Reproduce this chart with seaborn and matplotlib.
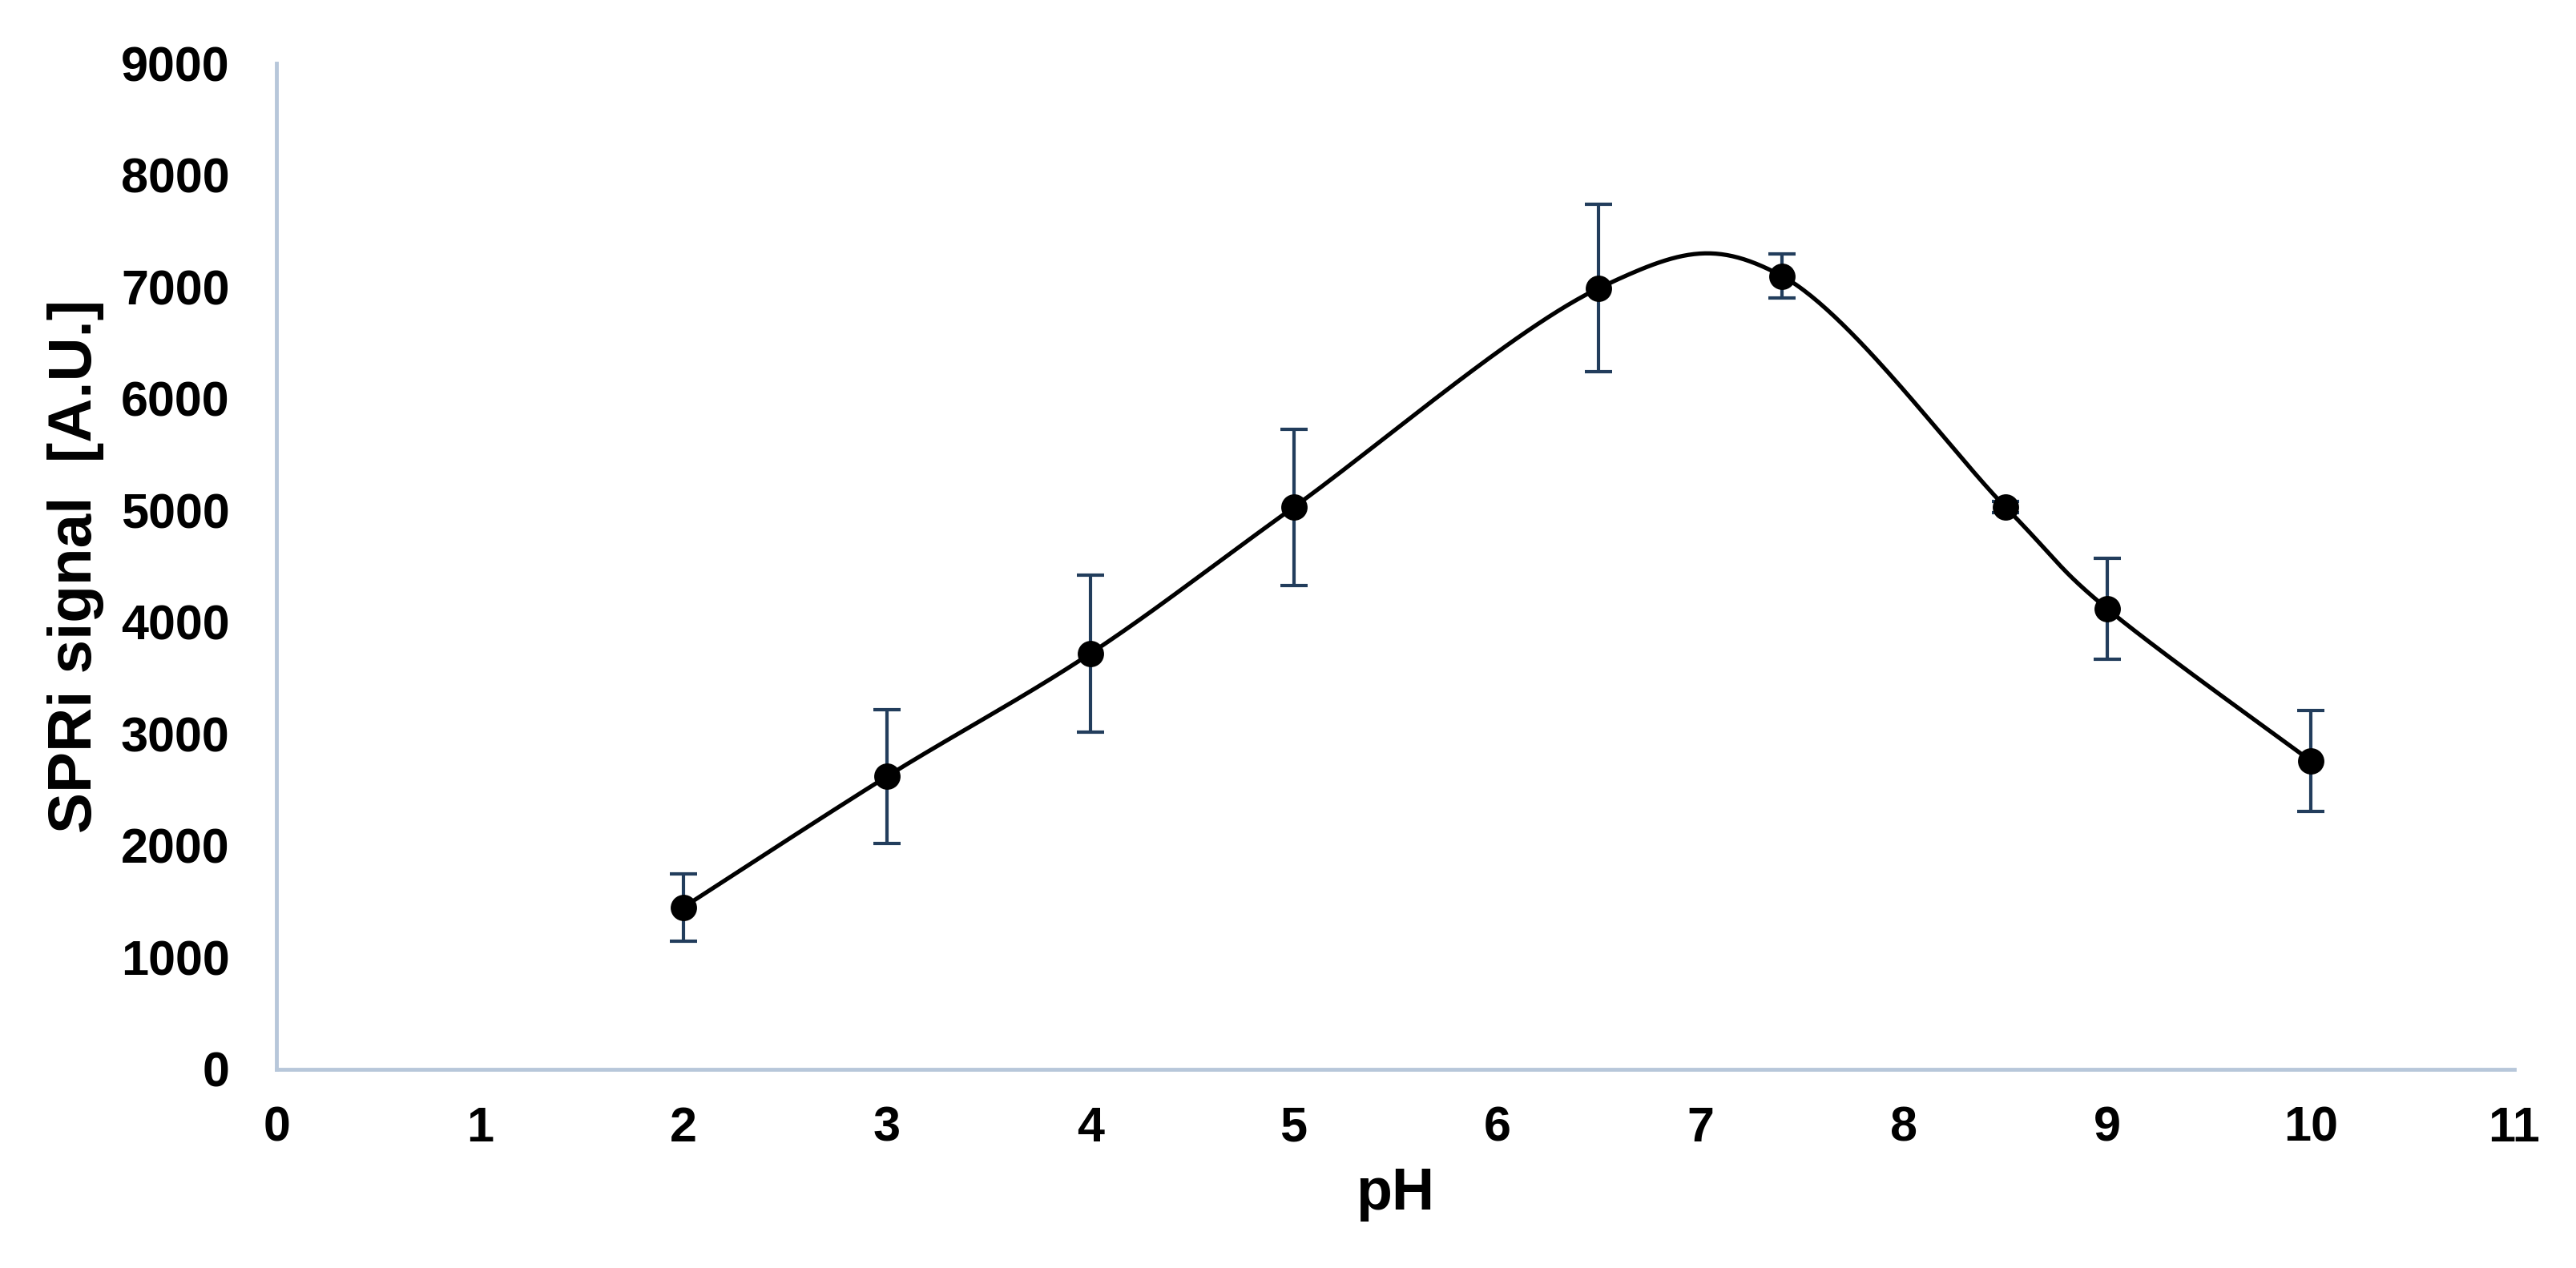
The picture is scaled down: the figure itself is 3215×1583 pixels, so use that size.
import numpy as np
import pandas as pd
import matplotlib
matplotlib.use("Agg")
import matplotlib.pyplot as plt
import seaborn as sns

# values
ph = [2, 3, 4, 5, 6.5, 7.4, 8.5, 9, 10]
signal = [1450, 2620, 3720, 5030, 6990, 7100, 5030, 4120, 2760]
error = [300, 600, 700, 700, 750, 200, 50, 450, 450]

x_ticks = list(range(0, 12))
y_ticks = list(range(0, 10000, 1000))

sns.set_style("white")
plt.rcParams["font.family"] = ["Liberation Sans", "DejaVu Sans"]
plt.rcParams["font.weight"] = "bold"

fig = plt.figure(figsize=(32.16, 15.83), dpi=100)
ax = fig.add_axes([0.1073, 0.1567, 0.8684, 0.7931])
ax.set_xlim(0, 11)
ax.set_ylim(0, 9000)


# Excel-style smoothed line: cubic Bezier through the points,
# control points from neighbours (tension 1/6), worked out in pixel space
def excel_smooth(xs, ys, ax, n=60):
    w = ax.get_position().width * fig.get_figwidth()
    h = ax.get_position().height * fig.get_figheight()
    sx = w / (ax.get_xlim()[1] - ax.get_xlim()[0])
    sy = h / (ax.get_ylim()[1] - ax.get_ylim()[0])
    P = np.column_stack([np.asarray(xs, float) * sx, np.asarray(ys, float) * sy])
    Pp = np.vstack([P[0], P, P[-1]])
    out = []
    t = np.linspace(0, 1, n)[:, None]
    for i in range(len(P) - 1):
        p0, p1, p2, p3 = Pp[i], Pp[i + 1], Pp[i + 2], Pp[i + 3]
        c1 = p1 + (p2 - p0) / 6
        c2 = p2 - (p3 - p1) / 6
        seg = ((1 - t) ** 3) * p1 + 3 * ((1 - t) ** 2) * t * c1 + 3 * (1 - t) * t ** 2 * c2 + t ** 3 * p2
        out.append(seg if i == 0 else seg[1:])
    out = np.vstack(out)
    return out[:, 0] / sx, out[:, 1] / sy


cx, cy = excel_smooth(ph, signal, ax)
curve = pd.DataFrame({"pH": cx, "signal": cy})
points = pd.DataFrame({"pH": ph, "signal": signal})

ax.errorbar(ph, signal, yerr=error, fmt="none", ecolor="#223d5c",
            elinewidth=3, capsize=12, capthick=3, zorder=2)
sns.lineplot(data=curve, x="pH", y="signal", sort=False, color="black",
             linewidth=3.8, ax=ax, zorder=3)
sns.scatterplot(data=points, x="pH", y="signal", color="black", s=560,
                edgecolor="black", linewidth=0, ax=ax, zorder=4)

ax.set_xticks(x_ticks)
ax.set_yticks(y_ticks)
ax.tick_params(axis="both", length=0, labelsize=44, colors="black")
ax.tick_params(axis="x", pad=33)
ax.tick_params(axis="y", pad=42)
for lab in ax.get_xticklabels() + ax.get_yticklabels():
    lab.set_fontweight("bold")

ax.set_xlabel("pH", fontsize=53, fontweight="bold", color="black", labelpad=13)
ax.set_ylabel("SPRi signal  [A.U.]", fontsize=55, fontweight="bold", color="black", labelpad=15)

for side in ["top", "right"]:
    ax.spines[side].set_visible(False)
for side in ["left", "bottom"]:
    ax.spines[side].set_color("#b7c7da")
    ax.spines[side].set_linewidth(3.5)

fig.savefig("out.png", dpi=100)
